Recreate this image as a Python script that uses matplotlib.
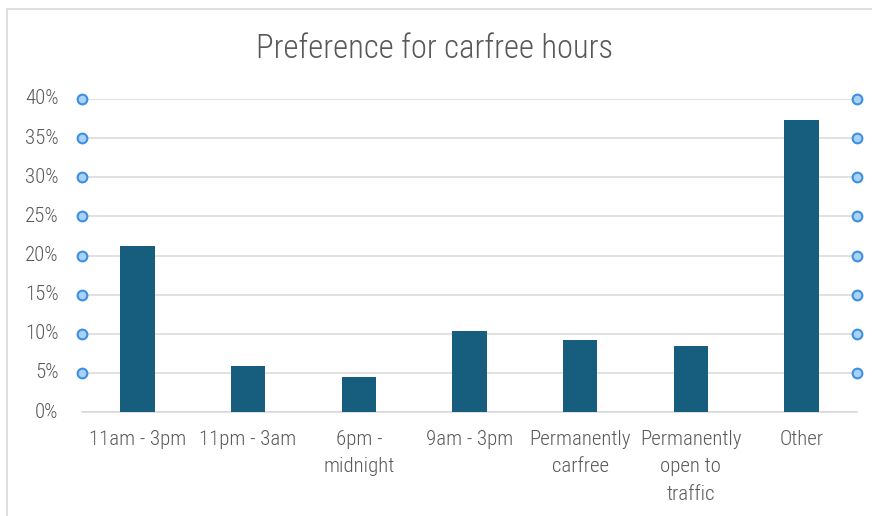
import matplotlib.pyplot as plt
from matplotlib.patches import Rectangle

categories = ["11am - 3pm", "11pm - 3am", "6pm -\nmidnight", "9am - 3pm",
              "Permanently\ncarfree", "Permanently\nopen to\ntraffic", "Other"]
shares = [21.2, 5.9, 4.5, 10.4, 9.2, 8.4, 37.3]
y_ticks = [0, 5, 10, 15, 20, 25, 30, 35, 40]

plt.rcParams["font.family"] = ["Roboto Condensed", "Liberation Sans Narrow", "DejaVu Sans"]
text_color = "#595959"
grid_color = "#d9d9d9"
bar_color = "#175e7e"

fig = plt.figure(figsize=(8.72, 5.16), dpi=100)

# chart area outline
fig.patches.append(Rectangle((7 / 872, -0.1), 1.2, 1 - 9 / 516 + 0.1,
                             transform=fig.transFigure, fill=False,
                             edgecolor=grid_color, linewidth=1.2))

ax = fig.add_axes([82 / 872, 104 / 516, 775 / 872, 313 / 516])
x = range(len(categories))
ax.bar(x, shares, width=0.31, color=bar_color, zorder=3)

ax.set_xlim(-0.5, len(categories) - 0.5)
ax.set_ylim(0, 40)
ax.set_yticks(y_ticks)
ax.set_yticklabels([f"{t}%" for t in y_ticks])
ax.set_xticks(list(x))
ax.set_xticklabels(categories, linespacing=1.55)
ax.tick_params(axis="both", length=0, labelsize=15, colors=text_color)
ax.tick_params(axis="y", pad=17)
ax.tick_params(axis="x", pad=13)
for lbl in ax.get_xticklabels() + ax.get_yticklabels():
    lbl.set_fontweight("light")
    lbl.set_verticalalignment("top" if lbl in ax.get_xticklabels() else "center")

ax.grid(axis="y", color=grid_color, linewidth=1.1, zorder=0)
for side in ["top", "right", "left"]:
    ax.spines[side].set_visible(False)
ax.spines["bottom"].set_color(grid_color)
ax.spines["bottom"].set_linewidth(1.1)

# selection handles along the gridlines
handle_y = y_ticks[1:]
for hx in [-0.5, len(categories) - 0.5]:
    ax.plot([hx] * len(handle_y), handle_y, linestyle="none", marker="o",
            markersize=7, markerfacecolor="#a9d2f7", markeredgecolor="#3d8fe3",
            markeredgewidth=1.5, clip_on=False, zorder=5)

fig.text(435 / 872, 1 - 49 / 516, "Preference for carfree hours",
         ha="center", va="center", fontsize=23.5, fontweight="light",
         color=text_color)

fig.savefig("out.png", dpi=100)
